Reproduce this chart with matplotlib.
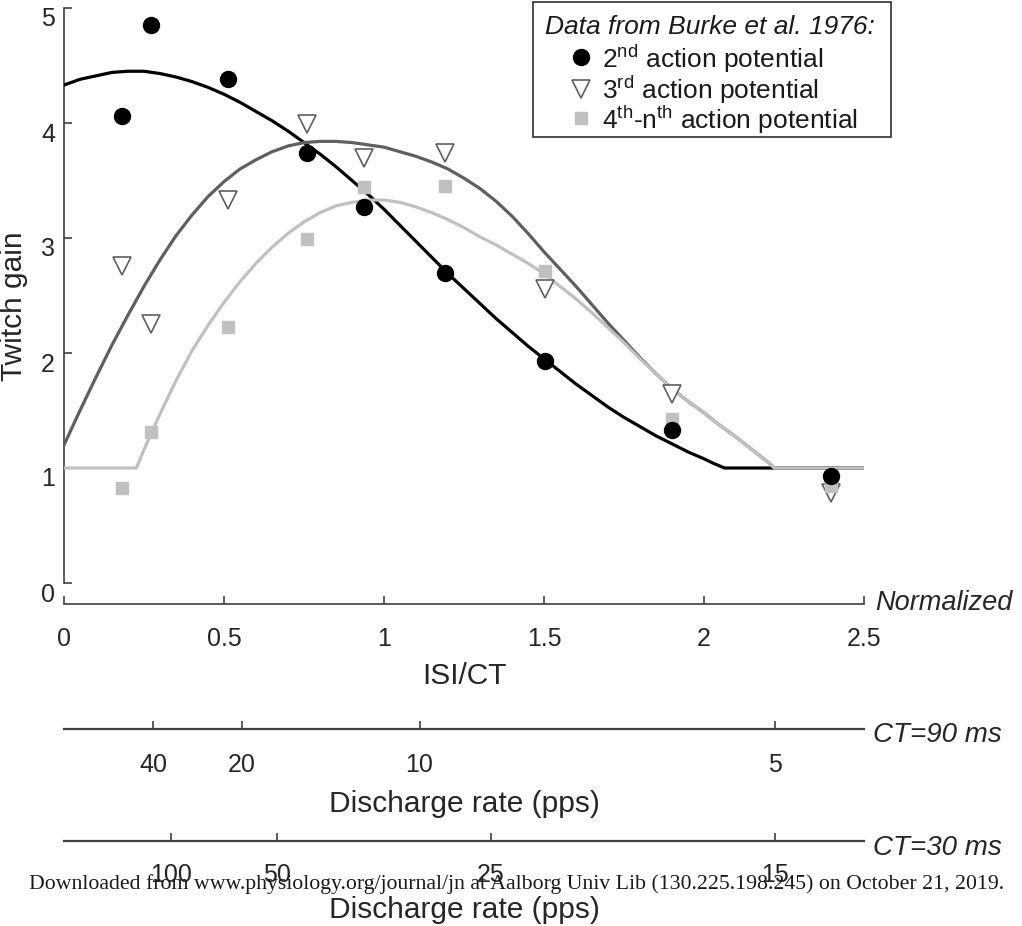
import numpy as np
import matplotlib
matplotlib.use("Agg")
import matplotlib.pyplot as plt
from matplotlib.lines import Line2D
from matplotlib.patches import Rectangle
from matplotlib.transforms import ScaledTranslation

plt.rcParams['font.family'] = ['Liberation Sans', 'DejaVu Sans']
plt.rcParams['mathtext.fontset'] = 'custom'
plt.rcParams['mathtext.rm'] = 'Liberation Sans'
plt.rcParams['mathtext.it'] = 'Liberation Sans:italic'

# ---------------- data ----------------
isi_ct = [0.182, 0.273, 0.514, 0.759, 0.938, 1.192, 1.503, 1.901, 2.397]
gain_2nd = [4.06, 4.85, 4.38, 3.74, 3.27, 2.70, 1.93, 1.33, 0.93]
gain_3rd = [2.76, 2.25, 3.33, 3.99, 3.70, 3.74, 2.56, 1.64, 0.78]
gain_4th = [0.83, 1.31, 2.23, 2.99, 3.44, 3.45, 2.71, 1.43, 0.84]

fit2_x = [0.0, 0.05, 0.1, 0.15, 0.2, 0.25, 0.3, 0.35, 0.4, 0.45, 0.5, 0.55, 0.6,
          0.65, 0.7, 0.75, 0.8, 0.85, 0.9, 0.95, 1.0, 1.05, 1.1, 1.15, 1.2, 1.25,
          1.3, 1.35, 1.4, 1.45, 1.5, 1.55, 1.6, 1.65, 1.7, 1.75, 1.8, 1.85, 1.9,
          1.95, 2.0, 2.03, 2.064, 2.5]
fit2_y = [4.33, 4.38, 4.41, 4.44, 4.45, 4.45, 4.43, 4.40, 4.36, 4.31, 4.25, 4.18,
          4.10, 4.02, 3.93, 3.83, 3.73, 3.62, 3.50, 3.38, 3.25, 3.11, 2.97, 2.83,
          2.69, 2.56, 2.43, 2.30, 2.18, 2.06, 1.95, 1.84, 1.73, 1.63, 1.53, 1.44,
          1.36, 1.28, 1.21, 1.14, 1.08, 1.04, 1.00, 1.00]

fit3_x = [0.0, 0.05, 0.1, 0.15, 0.2, 0.25, 0.3, 0.35, 0.4, 0.45, 0.5, 0.55, 0.6,
          0.65, 0.7, 0.75, 0.8, 0.85, 0.9, 0.95, 1.0, 1.05, 1.1, 1.15, 1.2, 1.25,
          1.3, 1.35, 1.4, 1.45, 1.5, 1.55, 1.6, 1.65, 1.7, 1.75, 1.8, 1.85, 1.9,
          1.95, 2.0, 2.05, 2.1, 2.15, 2.2, 2.22, 2.5]
fit3_y = [1.20, 1.50, 1.79, 2.07, 2.33, 2.58, 2.81, 3.02, 3.20, 3.36, 3.49, 3.60,
          3.68, 3.75, 3.80, 3.83, 3.84, 3.84, 3.83, 3.81, 3.79, 3.75, 3.71, 3.66,
          3.60, 3.52, 3.43, 3.32, 3.19, 3.04, 2.88, 2.73, 2.58, 2.42, 2.26, 2.11,
          1.96, 1.82, 1.69, 1.58, 1.48, 1.37, 1.27, 1.16, 1.05, 1.00, 1.00]

fit4_x = [0.0, 0.226, 0.25, 0.3, 0.35, 0.4, 0.45, 0.5, 0.55, 0.6, 0.65, 0.7, 0.75,
          0.8, 0.85, 0.9, 0.95, 1.0, 1.05, 1.1, 1.15, 1.2, 1.25, 1.3, 1.35, 1.4,
          1.45, 1.5, 1.55, 1.6, 1.65, 1.7, 1.75, 1.8, 1.85, 1.9, 1.95, 2.0, 2.05,
          2.1, 2.15, 2.2, 2.22, 2.5]
fit4_y = [1.00, 1.00, 1.16, 1.47, 1.76, 2.02, 2.24, 2.44, 2.62, 2.78, 2.92, 3.04,
          3.14, 3.22, 3.28, 3.31, 3.33, 3.33, 3.31, 3.27, 3.22, 3.16, 3.09, 3.01,
          2.94, 2.86, 2.78, 2.69, 2.58, 2.47, 2.35, 2.22, 2.09, 1.95, 1.82, 1.69,
          1.58, 1.48, 1.37, 1.27, 1.16, 1.05, 1.00, 1.00]

y_ticks = [0, 1, 2, 3, 4, 5]
x_ticks = [0, 0.5, 1, 1.5, 2, 2.5]
x_ticklabels = ['0', '0.5', '1', '1.5', '2', '2.5']

rates_ct90 = [40, 20, 10, 5]
rates_ct30 = [100, 50, 25, 15]
ct_values = [90, 30]

legend_title = 'Data from Burke et al. 1976:'
legend_labels = ['2$^{\\mathrm{nd}}$ action potential',
                 '3$^{\\mathrm{rd}}$ action potential',
                 '4$^{\\mathrm{th}}$-n$^{\\mathrm{th}}$ action potential']

# ---------------- layout ----------------
W, H = 1022, 926
fig = plt.figure(figsize=(W / 100, H / 100), dpi=100)

def fx(px):
    return px / W

def fy(py):
    return 1 - py / H

AX_COL = '#404040'
TXT = '#262626'
C_BLACK = '#000000'
C_DARK = '#5f5f5f'
C_LIGHT = '#c0c0c0'

left_px, right_px = 64, 864
ax = fig.add_axes([fx(left_px), fy(604), fx(right_px) - fx(left_px), fy(8) - fy(604)])
ax.set_xlim(0, 2.5)
ax.set_ylim(-21 / 115, 5.0)
for s in ['top', 'right']:
    ax.spines[s].set_visible(False)
ax.spines['left'].set_bounds(0, 5)
ax.spines['bottom'].set_bounds(0, 2.5)
for s in ['left', 'bottom']:
    ax.spines[s].set_color(AX_COL)
    ax.spines[s].set_linewidth(1.2)

ax.plot(fit2_x, fit2_y, color=C_BLACK, lw=2.3, zorder=3)
ax.plot(fit3_x, fit3_y, color=C_DARK, lw=2.3, zorder=3)
ax.plot(fit4_x, fit4_y, color=C_LIGHT, lw=2.3, zorder=3)

mk3 = dict(linestyle='none', marker='v', ms=12.5, mfc='white', mec=C_DARK, mew=1.2)
mk4 = dict(linestyle='none', marker='s', ms=8.5, mfc=C_LIGHT, mec=C_LIGHT)
mk2 = dict(linestyle='none', marker='o', ms=11.5, mfc=C_BLACK, mec=C_BLACK)
ax.plot(isi_ct, gain_3rd, zorder=4, **mk3)
ax.plot(isi_ct, gain_4th, zorder=5, **mk4)
ax.plot(isi_ct, gain_2nd, zorder=6, **mk2)

ax.set_xticks(x_ticks)
ax.set_xticklabels(x_ticklabels)
ax.set_yticks(y_ticks)
ax.tick_params(axis='both', direction='in', length=5.5, width=1.2, color=AX_COL,
               labelsize=18, labelcolor=TXT)
ax.tick_params(axis='x', pad=16.5)
ax.tick_params(axis='y', pad=6.5)
off = ScaledTranslation(0, -9 / 100, fig.dpi_scale_trans)
for t in ax.yaxis.get_major_ticks():
    t.label1.set_transform(t.label1.get_transform() + off)

fig.text(fx(464), fy(684), 'ISI/CT', fontsize=21.5, ha='center', va='baseline',
         color=TXT)
fig.text(fx(22), fy(306), 'Twitch gain', fontsize=21.5, rotation=90,
         rotation_mode='anchor', ha='center', va='baseline', color=TXT)
fig.text(fx(875), fy(610), 'Normalized', fontsize=19.5, style='italic',
         ha='left', va='baseline', color=TXT)

# ---------------- discharge-rate axes ----------------
line_y = [729, 841]
pads = [17, 16]
label_base = [812, 918]
ct_text_base = [742, 855]
for ct, rates, ly, pad, lb, cb in zip(ct_values, [rates_ct90, rates_ct30], line_y,
                                      pads, label_base, ct_text_base):
    a2 = fig.add_axes([fx(left_px), fy(ly), fx(right_px) - fx(left_px), 1e-4])
    a2.set_xlim(0, 2.5)
    a2.set_ylim(0, 1)
    for s in ['top', 'right', 'left']:
        a2.spines[s].set_visible(False)
    a2.spines['bottom'].set_color(AX_COL)
    a2.spines['bottom'].set_linewidth(1.6)
    a2.set_yticks([])
    a2.set_xticks([1000.0 / (r * ct) for r in rates])
    a2.set_xticklabels([str(r) for r in rates])
    a2.tick_params(axis='x', direction='in', length=6, width=1.2, color=AX_COL,
                   labelsize=18, labelcolor=TXT, pad=pad)
    a2.patch.set_visible(False)
    fig.text(fx(464), fy(lb), 'Discharge rate (pps)', fontsize=21.5, ha='center',
             va='baseline', color=TXT)
    fig.text(fx(873), fy(cb), f'CT={ct} ms', fontsize=20, style='italic',
             ha='left', va='baseline', color=TXT)

# ---------------- legend (boxed key) ----------------
fig.add_artist(Rectangle((fx(533), fy(137)), fx(891) - fx(533), fy(2) - fy(137),
                         transform=fig.transFigure, facecolor='white',
                         edgecolor=AX_COL, lw=1.3, zorder=20))
fig.text(fx(545), fy(34), legend_title, fontsize=19, style='italic', ha='left',
         va='baseline', color='#1a1a1a', zorder=21)
key_marker_y = [57, 89, 118]
key_text_base = [68, 99, 129]
for lab, mk, my, tb in zip(legend_labels, [mk2, mk3, mk4], key_marker_y, key_text_base):
    fig.add_artist(Line2D([fx(581)], [fy(my)], transform=fig.transFigure,
                          zorder=21, **mk))
    fig.text(fx(602), fy(tb), lab, fontsize=19, ha='left', va='baseline',
             color='#1a1a1a', zorder=21)

# ---------------- watermark ----------------
fig.text(fx(517), fy(889),
         'Downloaded from www.physiology.org/journal/jn at Aalborg Univ Lib '
         '(130.225.198.245) on October 21, 2019.',
         fontsize=15.7, family='Liberation Serif', ha='center', va='baseline',
         color='#1a1a1a', zorder=10)

fig.savefig('out.png', dpi=100)
